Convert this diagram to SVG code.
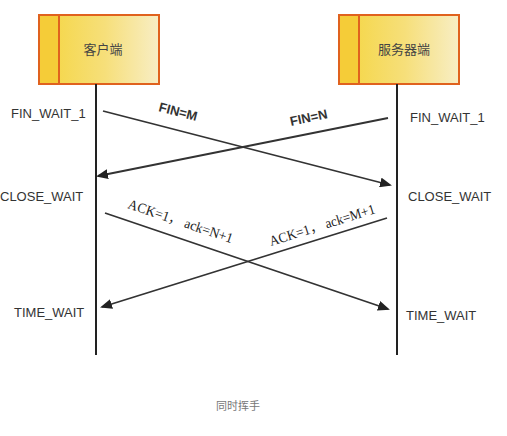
<svg xmlns="http://www.w3.org/2000/svg" width="507" height="436" viewBox="0 0 507 436">
<style>
.box{stroke:#e0621e;stroke-width:2;fill:url(#g)}
.side{fill:#f5cc38;stroke:#e0621e;stroke-width:2}
.t{font-family:"Noto Sans CJK SC",sans-serif;font-size:13px;fill:#444}
.st{font-family:"Liberation Sans",Arial,sans-serif;font-size:13px;fill:#333}
.lf{stroke:#222;stroke-width:2}
.ar{stroke:#333;stroke-width:1.8;fill:none;marker-end:url(#ah)}
.fin{font-family:"Liberation Sans",Arial,sans-serif;font-size:13px;font-weight:bold;fill:#333}
.ack{font-family:"Liberation Serif","Noto Sans CJK SC",serif;font-size:14px;fill:#222}
.cap{font-family:"Noto Sans CJK SC",sans-serif;font-size:11px;fill:#777}
</style>
<defs>
<linearGradient id="g" x1="0" y1="0" x2="1" y2="0">
<stop offset="0" stop-color="#f5d53e"/>
<stop offset="0.55" stop-color="#f6df7a"/>
<stop offset="1" stop-color="#f8eec5"/>
</linearGradient>
<marker id="ah" markerWidth="12" markerHeight="10" refX="10" refY="5" orient="auto" markerUnits="userSpaceOnUse">
<path d="M0,0 L12,5 L0,10 Z" fill="#222"/>
</marker>
</defs>
<g id="client">
<rect class="box" x="39" y="15" width="120" height="69"/>
<rect class="side" x="39" y="15" width="20" height="69"/>
<text class="t" x="103" y="54" text-anchor="middle">客户端</text>
</g>
<g id="server">
<rect class="box" x="339" y="15" width="120" height="69"/>
<rect class="side" x="339" y="15" width="20" height="69"/>
<text class="t" x="404" y="54" text-anchor="middle">服务器端</text>
</g>
<g id="lifelines">
<line class="lf" x1="96" y1="84" x2="96" y2="355"/>
<line class="lf" x1="397" y1="84" x2="397" y2="355"/>
</g>
<g id="states">
<text class="st" x="11" y="118">FIN_WAIT_1</text>
<text class="st" x="0" y="201">CLOSE_WAIT</text>
<text class="st" x="14" y="317">TIME_WAIT</text>
<text class="st" x="410" y="122">FIN_WAIT_1</text>
<text class="st" x="408" y="201">CLOSE_WAIT</text>
<text class="st" x="406" y="320">TIME_WAIT</text>
</g>
<g id="connectors">
<line class="ar" x1="103" y1="111" x2="390" y2="185"/>
<line class="ar" x1="388" y1="118" x2="98" y2="176"/>
<line class="ar" x1="105" y1="213" x2="388" y2="309"/>
<line class="ar" x1="387" y1="218" x2="102" y2="307"/>
</g>
<g id="labels">
<text class="fin" transform="translate(158,111) rotate(14.5)">FIN=M</text>
<text class="fin" transform="translate(291,126) rotate(-12)">FIN=N</text>
<text class="ack" transform="translate(127,208) rotate(18.7)" textLength="110" lengthAdjust="spacingAndGlyphs">ACK=1， ack=N+1</text>
<text class="ack" transform="translate(271,246) rotate(-17.4)" textLength="110" lengthAdjust="spacingAndGlyphs">ACK=1， ack=M+1</text>
</g>
<text class="cap" x="238" y="410" text-anchor="middle">同时挥手</text>
</svg>
